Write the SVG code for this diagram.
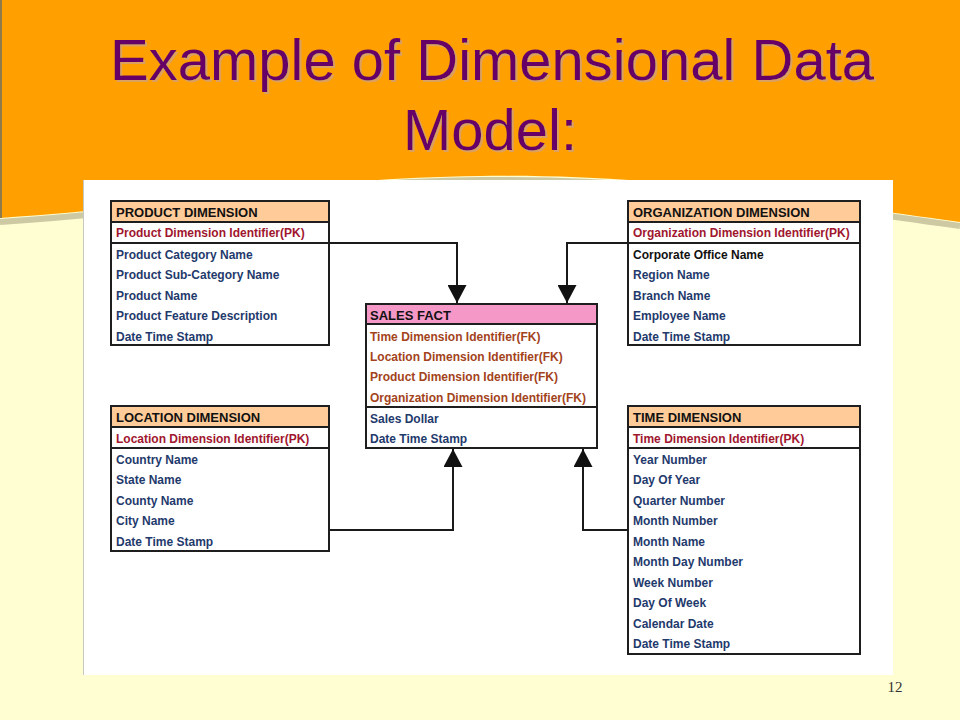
<svg xmlns="http://www.w3.org/2000/svg" width="960" height="720" viewBox="0 0 960 720">
<style>
.box{fill:#ffffff;stroke:#1e1e1e;stroke-width:2}
.hd{fill:#ffcc99;stroke:#1e1e1e;stroke-width:2}
.hdf{fill:#f598c8;stroke:#1e1e1e;stroke-width:2}
.sep{stroke:#1e1e1e;stroke-width:2}
.t{font-family:"Liberation Sans",Arial,sans-serif;font-weight:bold;font-size:12px}
.h{font-family:"Liberation Sans",Arial,sans-serif;font-weight:bold;font-size:13px;fill:#111111}
.pk{fill:#a0162e}
.fk{fill:#a3431c}
.b{fill:#1f3a6c}
.k{fill:#111111}
.conn{fill:none;stroke:#1a1a1a;stroke-width:2}
.title{font-family:"Liberation Sans",Arial,sans-serif;font-size:58px;text-anchor:middle;fill:#660066;filter:url(#tshadow)}
</style>
<defs>
<marker id="arr" viewBox="0 0 18 19" refX="18" refY="9.5" markerWidth="18" markerHeight="19" orient="auto" markerUnits="userSpaceOnUse">
<path d="M0,0 L18,9.5 L0,19 z" fill="#111111"/>
</marker>
<filter id="tshadow" x="-5%" y="-20%" width="110%" height="140%">
<feDropShadow dx="2" dy="2" stdDeviation="0.6" flood-color="#d6a070" flood-opacity="0.85"/>
</filter>
</defs>
<!-- background -->
<rect x="0" y="0" width="960" height="720" fill="#fffdd2"/>
<path d="M0,222 C200,209 300,182 480,180 C660,178 760,199 960,226" fill="none" stroke="#8d8a6a" stroke-width="6" opacity="0.45"/>
<path d="M0,0 H960 V222 C760,195 660,174 480,176 C300,178 200,205 0,218 Z" fill="#ffa000"/>
<rect x="0" y="0" width="2" height="218" fill="#8f7a4a"/>
<!-- title -->
<g id="title">
<text class="title" x="492" y="80">Example of Dimensional Data</text>
<text class="title" x="490" y="150">Model:</text>
</g>
<!-- white panel -->
<rect x="83" y="180" width="810" height="495" fill="#ffffff"/>
<line x1="83.5" y1="180" x2="83.5" y2="675" stroke="#c8c8c0" stroke-width="1"/>

<g id="connectors">
<path class="conn" d="M329,243 H457 V303" marker-end="url(#arr)"/>
<path class="conn" d="M628,243 H567 V303" marker-end="url(#arr)"/>
<path class="conn" d="M329,530 H453 V449" marker-end="url(#arr)"/>
<path class="conn" d="M628,530 H583 V449" marker-end="url(#arr)"/>
</g>

<g id="product-dimension">
<rect class="box" x="111" y="201" width="218" height="144"/>
<rect class="hd" x="111" y="201" width="218" height="21"/>
<line class="sep" x1="111" y1="243" x2="329" y2="243"/>
<text class="h" x="116" y="217">PRODUCT DIMENSION</text>
<text class="t pk" x="116" y="237">Product Dimension Identifier(PK)</text>
<text class="t b" x="116" y="258.5">Product Category Name</text>
<text class="t b" x="116" y="279">Product Sub-Category Name</text>
<text class="t b" x="116" y="299.5">Product Name</text>
<text class="t b" x="116" y="320">Product Feature Description</text>
<text class="t b" x="116" y="340.5">Date Time Stamp</text>
</g>

<g id="organization-dimension">
<rect class="box" x="628" y="201" width="232" height="144"/>
<rect class="hd" x="628" y="201" width="232" height="21"/>
<line class="sep" x1="628" y1="243" x2="860" y2="243"/>
<text class="h" x="633" y="217">ORGANIZATION DIMENSION</text>
<text class="t pk" x="633" y="237">Organization Dimension Identifier(PK)</text>
<text class="t k" x="633" y="258.5">Corporate Office Name</text>
<text class="t b" x="633" y="279">Region Name</text>
<text class="t b" x="633" y="299.5">Branch Name</text>
<text class="t b" x="633" y="320">Employee Name</text>
<text class="t b" x="633" y="340.5">Date Time Stamp</text>
</g>

<g id="sales-fact">
<rect class="box" x="366" y="304" width="231" height="144"/>
<rect class="hdf" x="366" y="304" width="231" height="20"/>
<line class="sep" x1="366" y1="407" x2="597" y2="407"/>
<text class="h" x="370" y="320">SALES FACT</text>
<text class="t fk" x="370" y="340.5">Time Dimension Identifier(FK)</text>
<text class="t fk" x="370" y="361">Location Dimension Identifier(FK)</text>
<text class="t fk" x="370" y="381">Product Dimension Identifier(FK)</text>
<text class="t fk" x="370" y="401.5">Organization Dimension Identifier(FK)</text>
<text class="t b" x="370" y="422.5">Sales Dollar</text>
<text class="t b" x="370" y="443">Date Time Stamp</text>
</g>

<g id="location-dimension">
<rect class="box" x="111" y="406" width="218" height="145"/>
<rect class="hd" x="111" y="406" width="218" height="21"/>
<line class="sep" x1="111" y1="448" x2="329" y2="448"/>
<text class="h" x="116" y="422">LOCATION DIMENSION</text>
<text class="t pk" x="116" y="443">Location Dimension Identifier(PK)</text>
<text class="t b" x="116" y="463.5">Country Name</text>
<text class="t b" x="116" y="484">State Name</text>
<text class="t b" x="116" y="504.5">County Name</text>
<text class="t b" x="116" y="525">City Name</text>
<text class="t b" x="116" y="545.5">Date Time Stamp</text>
</g>

<g id="time-dimension">
<rect class="box" x="628" y="406" width="232" height="248"/>
<rect class="hd" x="628" y="406" width="232" height="21"/>
<line class="sep" x1="628" y1="448" x2="860" y2="448"/>
<text class="h" x="633" y="422">TIME DIMENSION</text>
<text class="t pk" x="633" y="443">Time Dimension Identifier(PK)</text>
<text class="t b" x="633" y="463.5">Year Number</text>
<text class="t b" x="633" y="484">Day Of Year</text>
<text class="t b" x="633" y="504.5">Quarter Number</text>
<text class="t b" x="633" y="525">Month Number</text>
<text class="t b" x="633" y="545.5">Month Name</text>
<text class="t b" x="633" y="566">Month Day Number</text>
<text class="t b" x="633" y="586.5">Week Number</text>
<text class="t b" x="633" y="607">Day Of Week</text>
<text class="t b" x="633" y="627.5">Calendar Date</text>
<text class="t b" x="633" y="648">Date Time Stamp</text>
</g>

<text x="895" y="692" font-family="'Liberation Serif','Times New Roman',serif" font-size="15" fill="#333333" text-anchor="middle">12</text>
</svg>
